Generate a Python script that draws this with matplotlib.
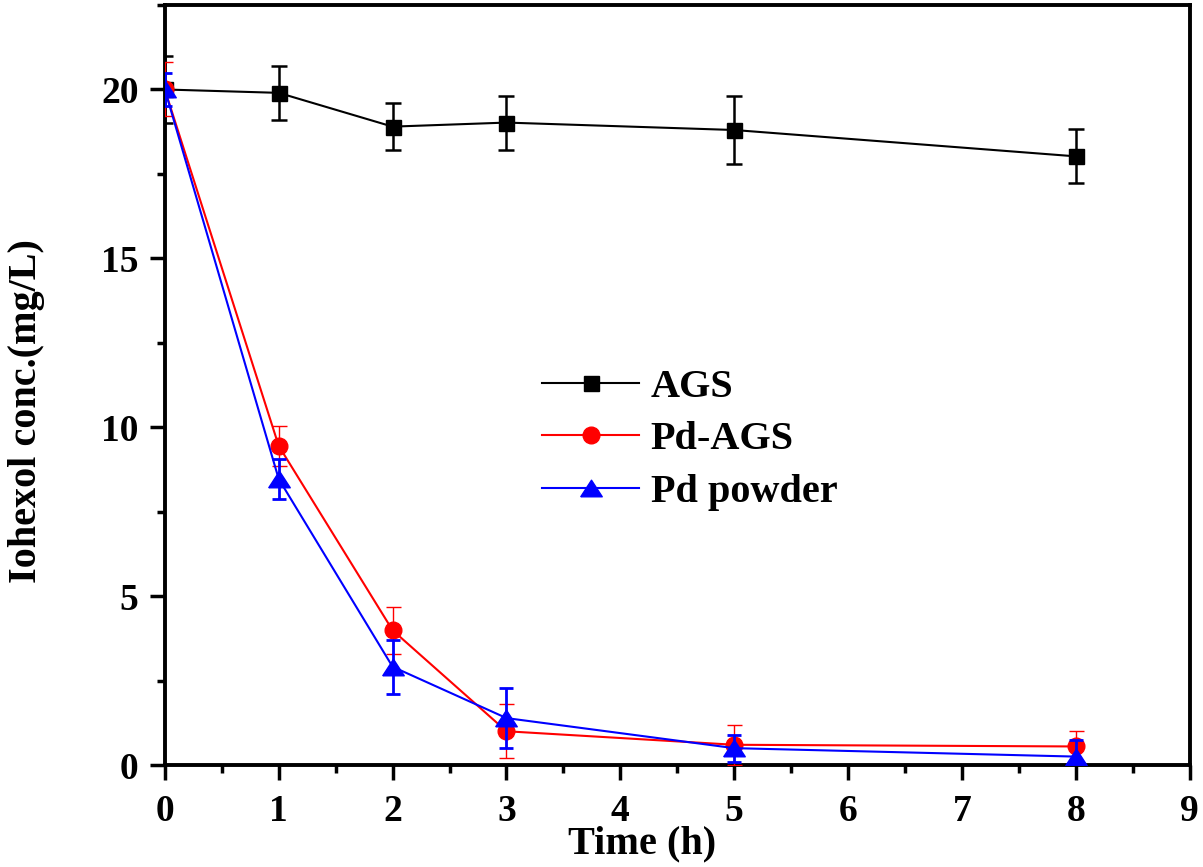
import matplotlib
matplotlib.use("Agg")
import matplotlib.pyplot as plt
from matplotlib.ticker import MultipleLocator
from matplotlib.lines import Line2D

plt.rcParams['font.family'] = ['Liberation Serif', 'DejaVu Serif']
plt.rcParams['font.weight'] = 'bold'

time_h = [0, 1, 2, 3, 5, 8]
ags = [20.0, 19.9, 18.9, 19.02, 18.8, 18.02]
ags_err = [1.0, 0.8, 0.7, 0.8, 1.0, 0.8]
pd_ags = [20.0, 9.45, 3.99, 1.0, 0.6, 0.55]
pd_ags_err = [0.8, 0.6, 0.7, 0.8, 0.6, 0.45]
pd_powder = [20.0, 8.47, 2.91, 1.39, 0.5, 0.25]
pd_powder_err = [0.5, 0.6, 0.8, 0.9, 0.4, 0.5]

labels = ['AGS', 'Pd-AGS', 'Pd powder']

fig = plt.figure(figsize=(12.03, 8.67), dpi=100)
ax = fig.add_axes([0.137, 0.1176, 0.852, 0.8766])

tri = [(-1, -0.77), (1, -0.77), (0, 0.77), (-1, -0.77)]

styles = [
    dict(color='black', marker='s', ms=10.8, elinewidth=1.8, capsize=5.6, capthick=1.8, zorder=3),
    dict(color='#ff0000', marker='o', ms=12, elinewidth=1.0, capsize=5.4, capthick=1.0, zorder=4),
    dict(color='#0000ff', marker=tri, ms=15.5, elinewidth=2.0, capsize=5.0, capthick=2.0, zorder=5),
]
series = [(ags, ags_err), (pd_ags, pd_ags_err), (pd_powder, pd_powder_err)]

handles = []
for (vals, errs), st, lab in zip(series, styles, labels):
    ax.errorbar(time_h, vals, yerr=errs, lw=1.5, **st)
    handles.append(Line2D([], [], color=st['color'], lw=1.5, marker=st['marker'], ms=st['ms'], label=lab))

ax.set_xlim(0, 9)
ax.set_ylim(0, 22.5)
ax.xaxis.set_major_locator(MultipleLocator(1))
ax.xaxis.set_minor_locator(MultipleLocator(0.5))
ax.yaxis.set_major_locator(MultipleLocator(5))
ax.yaxis.set_minor_locator(MultipleLocator(2.5))

for s in ax.spines.values():
    s.set_linewidth(2.8)
ax.tick_params(which='both', direction='out', width=2.5, top=False, right=False)
ax.tick_params(which='major', length=11, labelsize=27)
ax.tick_params(which='minor', length=6)
ax.tick_params(axis='x', which='major', pad=10)
ax.tick_params(axis='y', which='major', pad=8)

ax.set_xlabel('Time (h)', fontsize=29, fontweight='bold')
ax.set_ylabel('Iohexol conc.(mg/L)', fontsize=29, fontweight='bold')
ax.xaxis.set_label_coords(0.466, -0.079)
ax.yaxis.set_label_coords(-0.117, 0.466)

leg = ax.legend(handles=handles, loc='center left', bbox_to_anchor=(0.368, 0.428), frameon=False,
                fontsize=29, handlelength=2.42, handletextpad=0.28, labelspacing=0.38,
                borderpad=0, borderaxespad=0, numpoints=1)
for t in leg.get_texts():
    t.set_fontweight('bold')

fig.savefig('out.png', dpi=100)
